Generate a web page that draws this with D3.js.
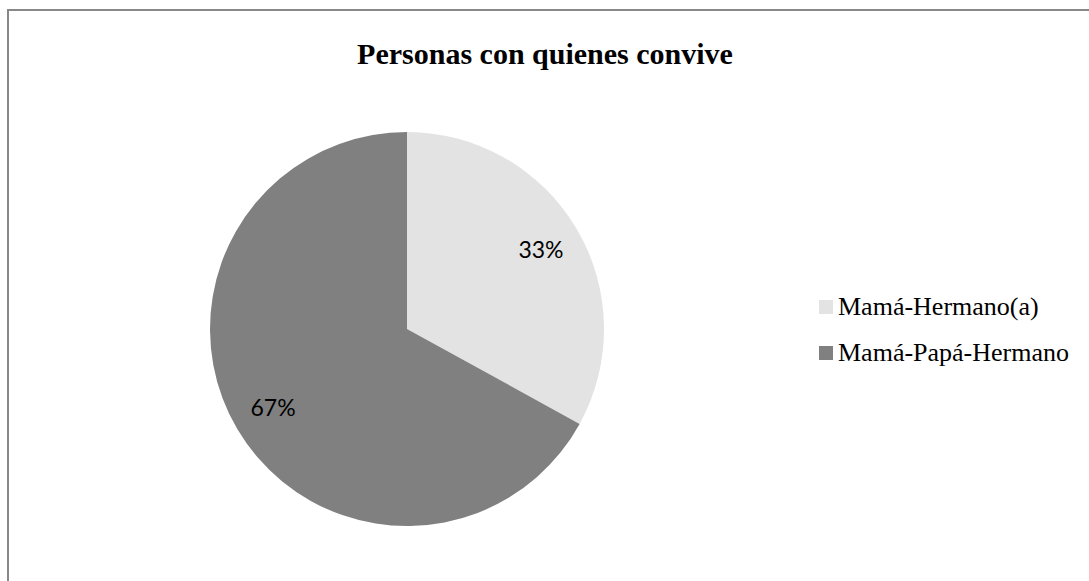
<!DOCTYPE html>
<html><head><meta charset="utf-8">
<script src="https://cdn.jsdelivr.net/npm/d3@7"></script>
<style>body{margin:0;background:#fff}</style>
</head><body>
<svg id="c" width="1089" height="581"></svg>
<script>
const categories = ["Mamá-Hermano(a)", "Mamá-Papá-Hermano"];
const values = [33, 67];
const labels = ["33%", "67%"];
const colors = ["#e3e3e3", "#808080"];

const svg = d3.select("#c");
svg.append("rect").attr("x", 8).attr("y", 10).attr("width", 1100).attr("height", 600)
  .attr("fill", "#fff").attr("stroke", "#888").attr("stroke-width", 2);

svg.append("text").attr("x", 545).attr("y", 64).attr("text-anchor", "middle")
  .attr("font-family", "Liberation Serif").attr("font-weight", "bold").attr("font-size", 30)
  .text("Personas con quienes convive");

const cx = 407, cy = 329, r = 197;
const pie = d3.pie().sort(null)(values);
const arc = d3.arc().innerRadius(0).outerRadius(r);
const g = svg.append("g").attr("transform", `translate(${cx},${cy})`);
g.selectAll("path").data(pie).enter().append("path").attr("d", arc).attr("fill", (d, i) => colors[i]);
const labelArc = d3.arc().innerRadius(r * 0.79).outerRadius(r * 0.79);
g.selectAll("text.l").data(pie).enter().append("text")
  .attr("transform", d => `translate(${labelArc.centroid(d)})`)
  .attr("text-anchor", "middle").attr("dy", "0.35em")
  .attr("font-family", "Lato, 'Open Sans', sans-serif").attr("font-size", 23).attr("fill", "#000")
  .text((d, i) => labels[i]);

const lg = svg.append("g");
categories.forEach((c, i) => {
  const y = 315 + i * 46;
  lg.append("rect").attr("x", 819).attr("y", y - 15).attr("width", 14).attr("height", 14).attr("fill", colors[i]);
  lg.append("text").attr("x", 838).attr("y", y).attr("font-family", "Liberation Serif")
    .attr("font-size", 26).text(c);
});
</script>
</body></html>
